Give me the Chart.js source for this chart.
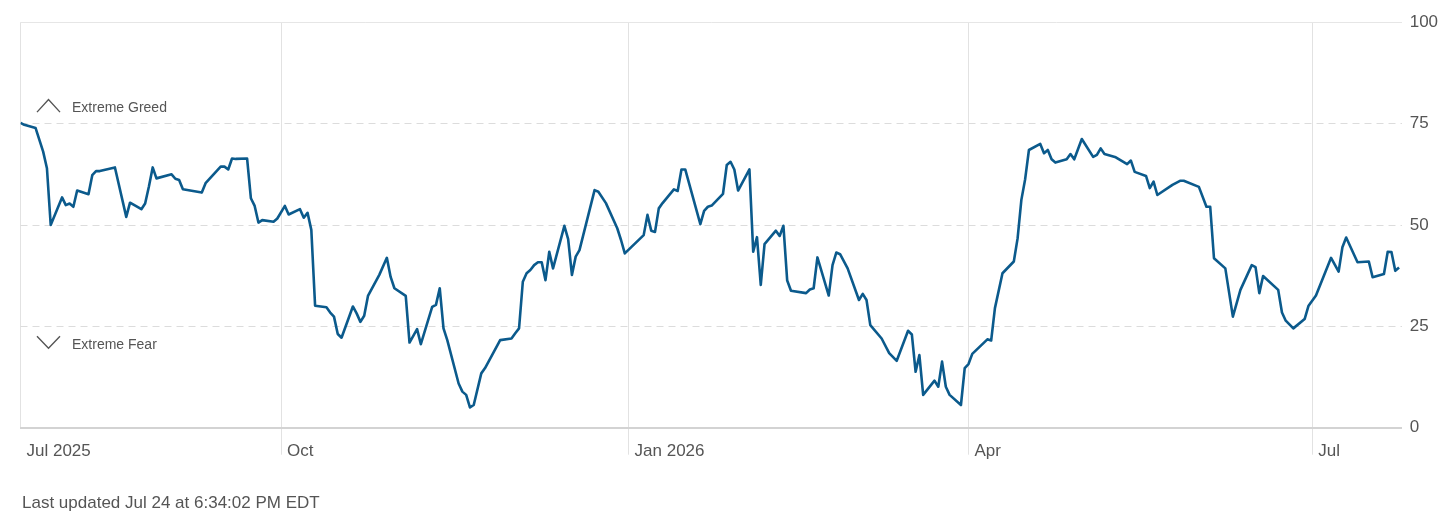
<!DOCTYPE html>
<html>
<head>
<meta charset="utf-8">
<script src="https://cdn.jsdelivr.net/npm/chart.js@4.4.1/dist/chart.umd.min.js"></script>
<style>
  html, body { margin: 0; padding: 0; background: #fff; }
  #wrap { position: relative; width: 1456px; height: 524px; }
  #footer { position: absolute; left: 22px; top: 492px; font: 17px "Liberation Sans", Arial, sans-serif; color: #555; line-height: 22px; white-space: nowrap; }
</style>
</head>
<body>
<div id="wrap">
  <canvas id="c" width="1456" height="524"></canvas>
  <div id="footer">Last updated Jul 24 at 6:34:02 PM EDT</div>
</div>
<script>
// Days since Jul 24, 2025
const dayOffsets = [0,1,4,6,7,8,11,12,13,14,15,18,19,20,21,25,28,29,32,33,34,35,36,40,41,42,43,48,49,53,54,55,56,57,60,61,62,63,64,67,68,70,71,74,75,76,77,78,81,82,83,84,85,88,89,90,91,92,95,97,98,99,102,103,105,106,109,110,111,112,113,116,117,118,119,120,122,123,127,130,131,132,133,134,135,136,137,138,139,140,141,144,145,146,147,148,152,153,155,158,159,160,165,166,167,168,169,170,173,174,175,176,180,181,182,183,186,187,188,189,190,193,194,195,196,197,200,201,202,203,204,208,209,210,211,214,215,216,217,219,222,223,224,225,228,230,232,235,236,237,238,239,242,243,244,245,246,249,250,251,252,254,256,257,258,260,263,264,265,266,267,270,271,272,273,274,277,278,279,281,284,285,286,287,290,293,294,295,298,299,300,301,305,307,308,312,314,315,316,319,321,323,326,327,328,329,333,334,335,337,340,341,343,347,349,350,351,354,357,358,361,362,363,364,365];
const fearGreed = [75.2,74.7,73.9,68.1,64,50,56.8,54.9,55.3,54.5,58.5,57.6,62.3,63.3,63.3,64.2,52,55.5,53.9,55.3,59.5,64.2,61.5,62.5,61.4,61.1,58.8,58,60.3,64.4,64.4,63.7,66.4,66.3,66.4,56.6,54.7,50.6,51.2,50.8,51.6,54.7,52.6,53.9,51.8,53,48.8,30.1,29.7,28.4,27.4,23.1,22.2,29.9,28.2,26.1,27.6,32.5,37.7,41.9,37.2,34.4,32.5,21,24.3,20.6,29.8,30.3,34.4,24.5,21.6,10.9,8.9,8.1,5,5.6,13.4,14.7,21.6,22,23.3,24.5,36,38.1,38.9,40.1,40.8,40.8,36.4,43.4,39.3,49.8,46.5,37.7,42.2,43.8,58.6,58.2,55.4,49.2,46.3,43,47.5,52.5,48.6,48.3,54.1,55.4,58.8,58.4,63.7,63.7,50.2,53.5,54.5,54.8,57.7,64.8,65.6,63.7,58.5,63.7,43.4,47,35.2,45.3,48.6,47.3,49.8,36.3,33.8,33.2,34.1,34.4,42,32.6,40.1,43.2,42.8,39.3,31.5,33,31.5,25.3,22,18.4,16.5,23.9,23,13.8,17.9,8.1,11.6,10.1,16.3,10.1,8.1,5.6,14.7,15.7,18.2,20,21.8,21.5,29.5,38.1,41,46.7,56.2,61.3,68.5,70,67.7,68.5,66.2,65.4,66.2,67.5,66.2,71.2,66.8,67.3,68.9,67.5,66.7,65,65.9,63.1,62.1,59.1,60.7,57.4,59.9,60.9,60.9,59.4,54.5,54.5,41.8,39.3,27.4,34,40.1,39.6,33.2,37.4,34,28.4,26.4,24.5,26.8,30,32.6,41.9,38.5,44.5,46.9,40.8,41,37.1,37.9,43.4,43.3,38.7,39.5];
const tickDays = [0, 69, 161, 251, 342];
const tickLabels = ["Jul 2025", "Oct", "Jan 2026", "Apr", "Jul"];
const yTicks = [0, 25, 50, 75, 100];
const zoneLabels = ["Extreme Greed", "Extreme Fear"];

const FONT = '"Liberation Sans", Arial, sans-serif';
const TEXT = '#555555';

const zonePlugin = {
  id: 'zones',
  afterDraw(chart) {
    const {ctx, chartArea, scales} = chart;
    const y75 = scales.y.getPixelForValue(75);
    const y25 = scales.y.getPixelForValue(25);
    const L = chartArea.left;
    ctx.save();
    ctx.strokeStyle = '#555';
    ctx.lineWidth = 1.4;
    ctx.beginPath();
    ctx.moveTo(L + 16.5, y75 - 11.5);
    ctx.lineTo(L + 28, y75 - 24);
    ctx.lineTo(L + 39.5, y75 - 11.5);
    ctx.stroke();
    ctx.beginPath();
    ctx.moveTo(L + 16.5, y25 + 10);
    ctx.lineTo(L + 28, y25 + 21.8);
    ctx.lineTo(L + 39.5, y25 + 10);
    ctx.stroke();
    ctx.fillStyle = TEXT;
    ctx.font = '14px ' + FONT;
    ctx.textBaseline = 'middle';
    ctx.textAlign = 'left';
    ctx.fillText(zoneLabels[0], L + 51.5, y75 - 16);
    ctx.fillText(zoneLabels[1], L + 51.5, y25 + 18.5);
    ctx.restore();
  }
};

new Chart(document.getElementById('c'), {
  type: 'line',
  data: {
    datasets: [{
      data: dayOffsets.map((d, i) => ({x: d, y: fearGreed[i]})),
      borderColor: '#0b5a8c',
      borderWidth: 2.6,
      pointRadius: 0,
      tension: 0,
      borderJoinStyle: 'round',
      fill: false
    }]
  },
  options: {
    responsive: false,
    animation: false,
    events: [],
    layout: { padding: { left: 20.5, top: 22.3, right: 0, bottom: 0 } },
    plugins: { legend: { display: false }, tooltip: { enabled: false } },
    scales: {
      x: {
        type: 'linear',
        min: 0,
        max: 365.7,
        afterBuildTicks(scale) { scale.ticks = tickDays.map(v => ({value: v})); },
        afterFit(scale) { scale.height = 524 - 427.7; },
        ticks: {
          autoSkip: false,
          maxRotation: 0,
          align: 'start',
          labelOffset: 6,
          padding: -14,
          color: TEXT,
          font: { family: FONT, size: 17 },
          callback(value) { const i = tickDays.indexOf(value); return i >= 0 ? tickLabels[i] : ''; }
        },
        grid: {
          color: '#e2e2e2',
          lineWidth: 1,
          drawTicks: true,
          tickLength: 27,
          tickColor: (c) => c.index === 0 ? 'rgba(0,0,0,0)' : '#e2e2e2'
        },
        border: { display: true, color: '#d3d3d3', width: 2 }
      },
      y: {
        position: 'right',
        min: 0,
        max: 100,
        afterBuildTicks(scale) { scale.ticks = yTicks.map(v => ({value: v})); },
        afterFit(scale) { scale.width = 1456 - 1401.7; },
        ticks: {
          padding: 8,
          color: TEXT,
          font: { family: FONT, size: 17 }
        },
        grid: {
          drawTicks: false,
          lineWidth: 1,
          color: (c) => (c.tick && c.tick.value === 0) ? 'rgba(0,0,0,0)' : (c.tick && c.tick.value === 100 ? '#e6e6e6' : '#dcdcdc')
        },
        border: {
          display: false,
          dash: (c) => (c.tick && c.tick.value === 100) ? [] : [7, 5]
        }
      }
    }
  },
  plugins: [zonePlugin]
});
</script>
</body>
</html>
